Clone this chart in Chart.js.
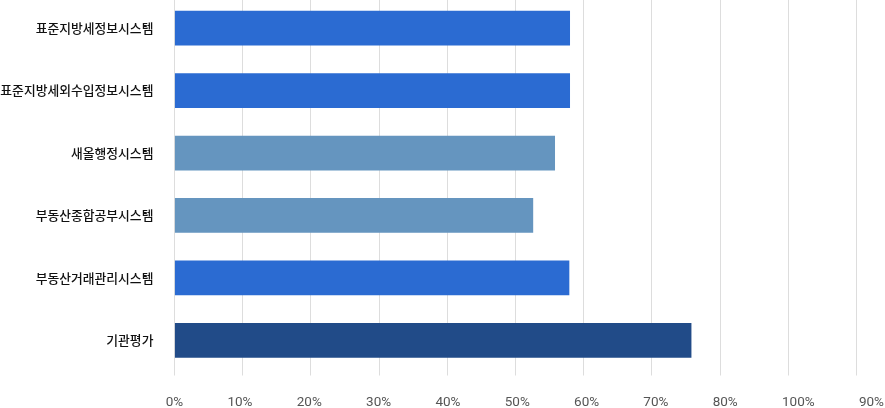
<!DOCTYPE html>
<html>
<head>
<meta charset="utf-8">
<script src="https://cdn.jsdelivr.net/npm/chart.js@4/dist/chart.umd.min.js"></script>
<style>
  html, body { margin: 0; padding: 0; background: #ffffff; }
  #wrap { width: 885px; height: 408px; position: relative; }
</style>
</head>
<body>
<div id="wrap"><canvas id="c"></canvas></div>
<script>
// ---- data ----
const categories = ['표준지방세정보시스템', '표준지방세외수입정보시스템', '새올행정시스템', '부동산종합공부시스템', '부동산거래관리시스템', '기관평가'];
const values = [58.0, 58.0, 55.8, 52.6, 57.9, 75.8];
const tickLabels = ['0%', '10%', '20%', '30%', '40%', '50%', '60%', '70%', '80%', '100%', '90%'];

// ---- styles ----
const barColors = ['#2b6bd2', '#2b6bd2', '#6595bf', '#6595bf', '#2b6bd2', '#214b88'];
const xTickFont = { family: 'Roboto', size: 13.5, lineHeight: 1 };
const plotOverflowTop = 3; // category band area starts slightly above the canvas top

const layoutTweaks = {
  id: 'layoutTweaks',
  afterLayout(chart) {
    // let the category band area start a little above the canvas top
    const ca = chart.chartArea;
    const y = chart.scales.y;
    ca.top -= plotOverflowTop;
    ca.height += plotOverflowTop;
    y.top -= plotOverflowTop;
    y.height += plotOverflowTop;
    y.configure();
    y._labelItems = null;

    // x labels are laid out "space-between" across the bottom strip (as in the source)
    const s = chart.scales.x2;
    const ctx = chart.ctx;
    ctx.save();
    ctx.font = xTickFont.size + 'px ' + xTickFont.family;
    const widths = s.ticks.map(t => ctx.measureText(t.label).width);
    ctx.restore();
    const left = s.getPixelForValue(s.min) - widths[0] / 2;
    const right = chart.width - 1;
    const total = widths.reduce((a, b) => a + b, 0);
    const gap = (right - left - total) / (widths.length - 1);
    let x = left;
    s.ticks.forEach((t, i) => {
      t.value = s.getValueForPixel(x + widths[i] / 2);
      x += widths[i] + gap;
    });
    s._labelItems = null;
  }
};

new Chart(document.getElementById('c'), {
  type: 'bar',
  data: {
    labels: categories,
    datasets: [{
      data: values,
      backgroundColor: barColors,
      borderWidth: 0,
      categoryPercentage: 1,
      barPercentage: 0.556
    }]
  },
  options: {
    indexAxis: 'y',
    responsive: true,
    maintainAspectRatio: false,
    animation: false,
    layout: { padding: { top: 0, right: 28.5, bottom: -1, left: 0 } },
    plugins: { legend: { display: false }, tooltip: { enabled: false } },
    scales: {
      y: {
        type: 'category',
        grid: { display: false, drawTicks: false },
        border: { display: false },
        ticks: {
          padding: 21,
          color: '#111111',
          font: { family: '"Noto Sans CJK KR"', size: 12.8, weight: 500 }
        },
        afterFit(s) { s.width = 174.4; s.paddingTop = 0; s.paddingBottom = 0; }
      },
      x: {
        type: 'linear',
        position: 'bottom',
        min: 0,
        max: 100,
        grid: { color: '#dddddd', lineWidth: 1, drawTicks: true, tickLength: 4 },
        border: { display: false },
        ticks: { display: false, stepSize: 10 },
        afterFit(s) { s.height = 4; s.paddingLeft = 0; s.paddingRight = 0; }
      },
      x2: {
        type: 'linear',
        position: 'bottom',
        weight: 1,
        min: 0,
        max: 100,
        grid: { display: false, drawTicks: false },
        border: { display: false },
        ticks: {
          stepSize: 10,
          autoSkip: false,
          maxRotation: 0,
          padding: 20,
          color: '#555555',
          font: xTickFont,
          callback: (v, i) => tickLabels[i]
        },
        afterFit(s) {
          s.height = s.options.ticks.padding + xTickFont.size * xTickFont.lineHeight;
          s.paddingLeft = 0; s.paddingRight = 0;
        }
      }
    }
  },
  plugins: [layoutTweaks]
});
</script>
</body>
</html>
